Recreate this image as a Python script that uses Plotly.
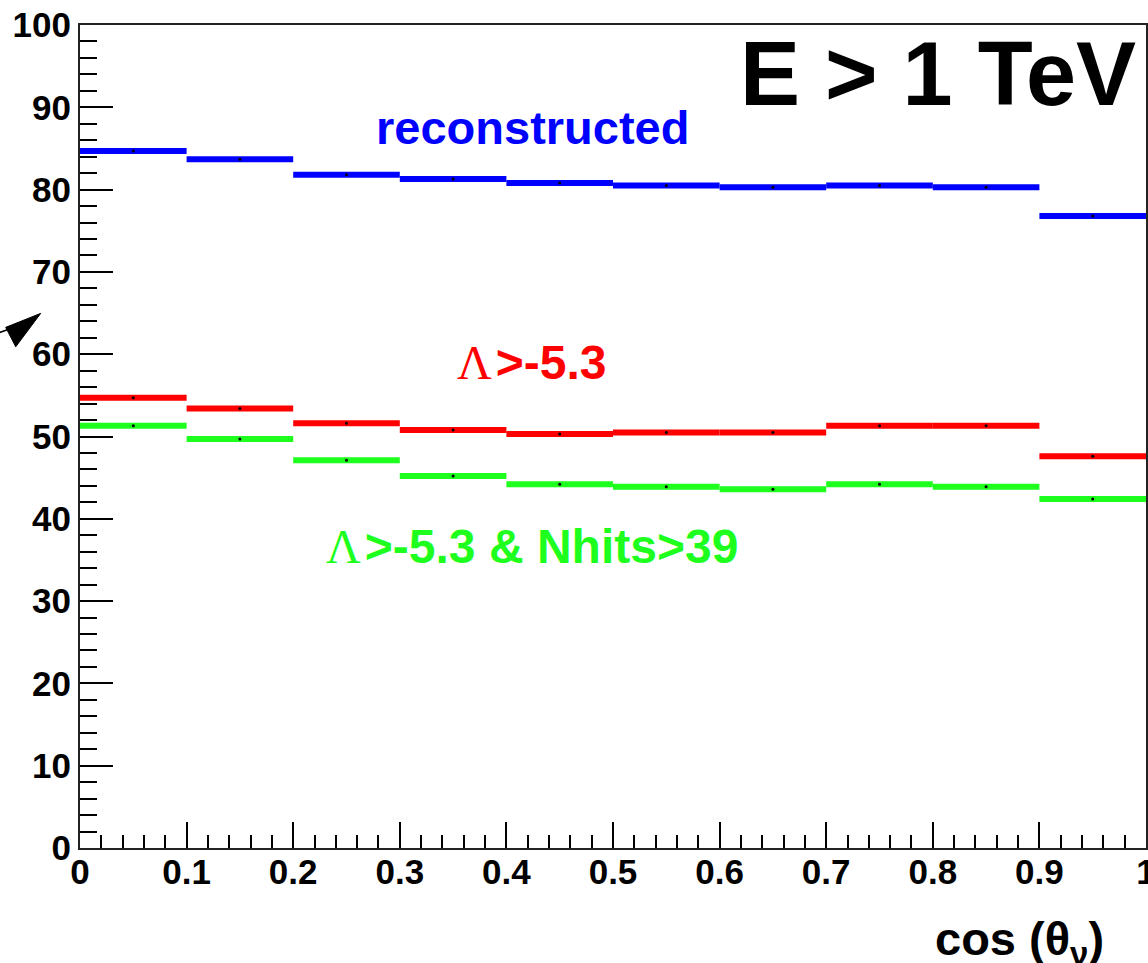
import plotly.graph_objects as go

# cos(theta_nu) binning
bin_edges = [0.0, 0.1, 0.2, 0.3, 0.4, 0.5, 0.6, 0.7, 0.8, 0.9, 1.0]

# efficiency [%] per bin, E > 1 TeV
reconstructed = [84.7, 83.7, 81.8, 81.3, 80.8, 80.5, 80.3, 80.5, 80.3, 76.8]
lambda_cut = [54.7, 53.4, 51.6, 50.8, 50.3, 50.5, 50.5, 51.3, 51.3, 47.6]
lambda_nhits_cut = [51.3, 49.7, 47.1, 45.2, 44.2, 43.9, 43.6, 44.2, 43.9, 42.4]

x_ticks = [0, 0.1, 0.2, 0.3, 0.4, 0.5, 0.6, 0.7, 0.8, 0.9, 1]
y_ticks = [0, 10, 20, 30, 40, 50, 60, 70, 80, 90, 100]

BLUE = "#0000ff"
RED = "#ff0000"
GREEN = "#1eff1e"
FONT = "Liberation Sans, Arial, sans-serif"


def bin_segments(edges, values):
    """Separate horizontal bars, one per bin (ROOT 'hist' style without risers)."""
    xs, ys = [], []
    for i, v in enumerate(values):
        xs += [edges[i], edges[i + 1], None]
        ys += [v, v, None]
    return xs, ys


centers = [(bin_edges[i] + bin_edges[i + 1]) / 2 for i in range(len(bin_edges) - 1)]

fig = go.Figure()
for vals, col in [(reconstructed, BLUE), (lambda_cut, RED), (lambda_nhits_cut, GREEN)]:
    xs, ys = bin_segments(bin_edges, vals)
    fig.add_trace(go.Scatter(x=xs, y=ys, mode="lines",
                             line=dict(color=col, width=6),
                             hoverinfo="skip", showlegend=False))
    fig.add_trace(go.Scatter(x=centers, y=vals, mode="markers",
                             marker=dict(color="black", size=3),
                             hoverinfo="skip", showlegend=False))

lam = "<span style=\"font-family:'Liberation Serif', 'Times New Roman', serif; font-weight:normal\">Λ</span>"

annotations = [
    dict(text="<b>E > 1 TeV</b>", x=0.805, y=94.1, font=dict(size=90, color="black")),
    dict(text="<b>reconstructed</b>", x=0.4245, y=87.5, font=dict(size=47, color=BLUE)),
    dict(text=lam + "<b>\u200a>-5.3</b>", x=0.424, y=59.0, font=dict(size=48, color=RED)),
    dict(text=lam + "<b>\u200a>-5.3 & Nhits>39</b>", x=0.424, y=36.6, font=dict(size=48, color=GREEN)),
]
for a in annotations:
    a.update(xref="x", yref="y", xanchor="center", yanchor="middle", showarrow=False)
    a["font"]["family"] = FONT

# axis title in the lower right corner
annotations.append(dict(
    text="<b>cos (θ<sub>ν</sub>)</b>", xref="paper", yref="paper",
    x=0.9625, y=-0.114, xanchor="right", yanchor="middle", showarrow=False,
    font=dict(family=FONT, size=47, color="black")))

# pointer arrow on the left edge (line + filled head), in paper units
arrow_shapes = [
    dict(type="line", xref="paper", yref="paper",
         x0=-0.0760, y0=0.6260, x1=-0.0590, y1=0.6340,
         line=dict(color="black", width=1.6)),
    dict(type="path", xref="paper", yref="paper",
         path="M -0.0369 0.6496 L -0.0697 0.6326 L -0.0603 0.6090 Z",
         fillcolor="black", line=dict(color="black", width=1)),
]

axis_common = dict(
    showgrid=False, zeroline=False, showline=True, mirror=True,
    linecolor="#222222", linewidth=2,
    ticks="inside", tickcolor="black", tickwidth=2,
    ticklabeloverflow="allow",
    tickfont=dict(family=FONT, size=35, color="black", weight="bold"),
)

fig.update_xaxes(range=[0, 1], tickvals=x_ticks, ticklen=26,
                 ticklabelstandoff=-8,
                 minor=dict(ticks="inside", dtick=0.02, ticklen=13,
                            tickcolor="black", tickwidth=2),
                 **axis_common)
fig.update_yaxes(range=[0, 100], tickvals=y_ticks, ticklen=33,
                 minor=dict(ticks="inside", dtick=2, ticklen=17,
                            tickcolor="black", tickwidth=2),
                 **axis_common)

fig.update_layout(
    width=1148, height=963,
    margin=dict(l=80, r=2, t=25, b=115, autoexpand=False),
    paper_bgcolor="white", plot_bgcolor="white",
    annotations=annotations,
    shapes=arrow_shapes,
    showlegend=False,
)

fig.write_html("out.html")
